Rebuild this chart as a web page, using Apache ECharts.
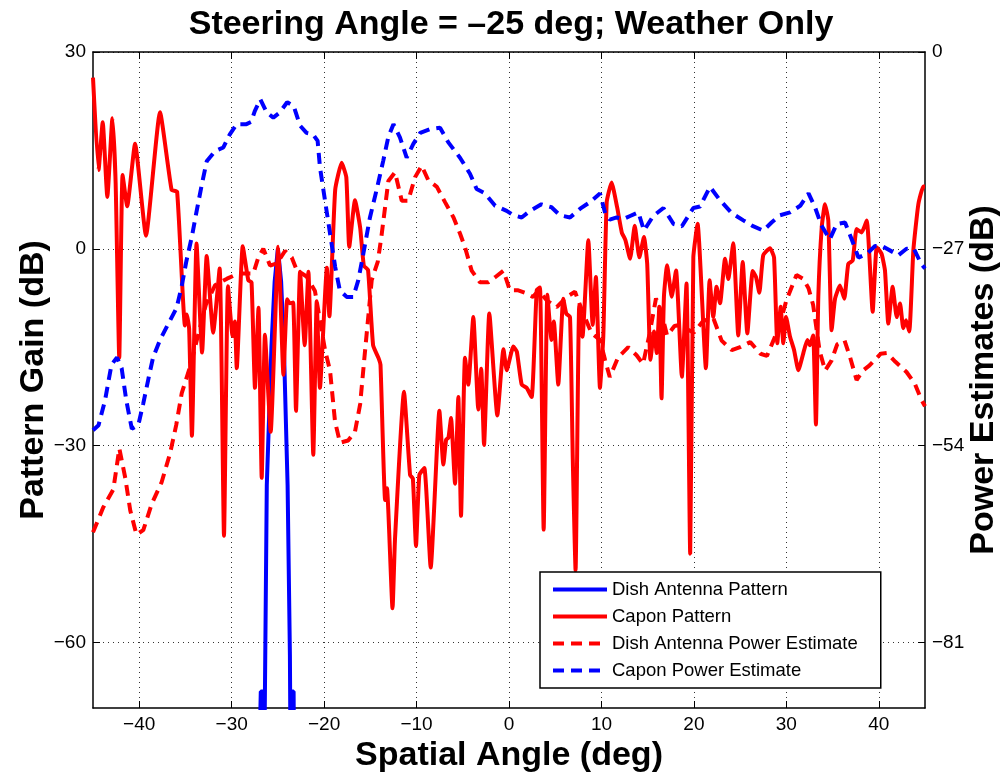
<!DOCTYPE html>
<html><head><meta charset="utf-8">
<script src="https://cdn.jsdelivr.net/npm/echarts@6/dist/echarts.min.js"></script>
<style>html,body{margin:0;padding:0;background:#fff}#c{width:1003px;height:773px}</style>
</head><body><div id="c"></div>
<script>
// ---- data (angle in deg, value in dB) ----
const titleText = 'Steering Angle = \u201325 deg; Weather Only';
const xTicks = [-40, -30, -20, -10, 0, 10, 20, 30, 40];
const leftTicks = [-60, -30, 0, 30];
const rightTicks = [-81, -54, -27, 0];

// Dish Antenna Pattern (left axis, dB)
const dishPattern = [
  [-45, -90], [-27.2, -90], [-26.85, -67.5], [-26.6, -67.5], [-26.5, -90],
  [-26.45, -75], [-26.2, -36], [-25.7, -15], [-25.35, -5], [-25.0, 0],
  [-24.65, -5], [-24.35, -15], [-23.95, -36], [-23.7, -62], [-23.62, -80],
  [-23.55, -67.5], [-23.3, -67.5], [-23.2, -90], [45, -90]
];

// Capon Pattern (left axis, dB)
const caponPattern = [
  [-45, 26.1], [-44.4, 12.0], [-43.95, 19.3], [-43.45, 7.9], [-42.9, 19.9], [-42.55, 10],
  [-42.16, -16.6], [-41.8, 11.25], [-41.3, 6.5], [-40.45, 16.0], [-39.27, 2.0], [-37.75, 20.8],
  [-36.5, 9.0], [-35.9, 8.7], [-35.05, -11.7], [-34.85, -10], [-34.6, -12.2], [-34.3, -28.5],
  [-33.8, 0.8], [-33.2, -15.8], [-32.7, -1.1], [-32.0, -12.8], [-31.3, -3.0], [-30.83, -43.75],
  [-30.4, -5.7], [-29.9, -13.3], [-29.65, -11.1], [-29.45, -18.2], [-28.8, 0.4], [-28.2, -4.8],
  [-27.85, -5.1], [-27.48, -21.2], [-27.1, -9.0], [-26.75, -34.9], [-26.4, -13.1], [-25.78, -27.9],
  [-24.96, 0.3], [-24.8, -4.2], [-24.4, -19.2], [-24.0, -7.7], [-23.7, -8.3], [-23.35, -8.2],
  [-23.04, -24.7], [-22.6, -3.5], [-22.1, -14.7], [-21.7, -3.5], [-21.17, -31.4], [-20.8, -8.0],
  [-20.45, -21.2], [-19.7, -2.9], [-19.43, -10.3], [-18.8, 9.0], [-18.1, 13.1], [-17.6, 10.9],
  [-17.28, 0.3], [-16.66, 7.4], [-16.1, 3.2], [-15.7, -2.6], [-15.25, -3.2], [-14.7, -14.7],
  [-14.1, -16.7], [-13.9, -17.7], [-13.4, -38.3], [-13.2, -36.5], [-12.6, -54.8], [-12.33, -44.2],
  [-11.36, -21.8], [-10.7, -34.5], [-10.4, -35], [-10.06, -45.3], [-9.7, -34.5], [-9.16, -33.4],
  [-8.47, -48.6], [-7.53, -24.7], [-7.1, -32.9], [-6.8, -29.1], [-6.55, -28.8], [-6.27, -25.8],
  [-5.84, -35.8], [-5.48, -22.6], [-5.19, -40.7], [-4.76, -16.6], [-4.4, -20.7], [-3.86, -10.4],
  [-3.32, -24.5], [-3.0, -18.3], [-2.7, -29.9], [-2.13, -9.85], [-1.26, -25.4], [-0.6, -15.3],
  [-0.25, -18.5], [0.47, -14.9], [0.85, -15.7], [1.37, -20.7], [1.9, -21.2], [2.45, -22.6],
  [3.0, -6.3], [3.35, -5.9], [3.75, -42.8], [4.15, -7.0], [4.6, -13.9], [4.85, -11.1],
  [5.33, -20.7], [5.87, -7.6], [6.2, -9.9], [6.6, -10.4], [6.9, -32.1], [7.2, -49],
  [7.6, -8.6], [7.95, -13.4], [8.58, 1.3], [9.05, -11.6], [9.4, -4.3], [9.84, -21.2],
  [10.2, -13.4], [10.57, 7.1], [11.1, 10.1], [11.7, 6.3], [12.2, 2.5], [12.6, 1.3],
  [13.1, -1.5], [13.6, 3.5], [14.1, -1.3], [14.6, 1.8], [14.95, -2.3], [15.3, -16.9],
  [15.7, -12.6], [15.98, -15.9], [16.26, -8.85], [16.5, -22.8], [16.76, -7.3], [17.1, -2.5],
  [17.6, -7.3], [18.07, -3.3], [18.7, -19.5], [19.2, -5.3], [19.6, -46.5], [19.94, -1.3],
  [20.4, 3.8], [21.3, -18.2], [21.7, -4.8], [22.1, -10.4], [22.45, -5.8], [22.83, -8.3],
  [23.37, -1.5], [23.72, -4.6], [24.26, 0.86], [24.8, -13.2], [25.28, -2.0], [25.78, -12.9],
  [26.36, -3.4], [26.72, -4.3], [27.08, -6.7], [27.5, -1.0], [28.23, 0.1], [28.67, -1.3],
  [29.02, -14.4], [29.39, -8.85], [29.67, -14.4], [29.97, -10.4], [30.4, -13.4], [30.83, -15.4],
  [31.3, -18.5], [31.84, -15.9], [32.27, -13.9], [32.56, -14.7], [32.9, -13.2], [33.2, -26.8],
  [33.46, -7.3], [33.83, 3.3], [34.18, 6.8], [34.54, 4.3], [34.9, -12.4], [35.27, -7.6],
  [35.8, -5.6], [36.27, -7.6], [36.7, -2.3], [37.18, -1.8], [37.6, 3.0], [38.15, 2.5],
  [38.7, 4.3], [39.34, -9.6], [39.78, 0.25], [40.3, -0.76], [40.67, -3.3], [41.03, -11.4],
  [41.5, -5.8], [41.94, -10.4], [42.3, -8.35], [42.65, -12.1], [42.95, -10.9], [43.3, -12.6],
  [43.74, -0.25], [44.28, 6.8], [44.82, 9.5], [45, 9.5]
];

// Dish Antenna Power Estimate (right axis, dB)
const dishPower = [
  [-45, -65.9], [-43.9, -62.5], [-42.8, -60.0], [-42.15, -54.4], [-41.5, -58.5], [-40.97, -62.9],
  [-40.3, -66.2], [-39.56, -65.6], [-38.65, -62.0], [-37.57, -59.0], [-36.67, -55.1], [-36.0, -51.2],
  [-35.4, -46.8], [-34.5, -43.2], [-33.6, -38.7], [-32.8, -34.7], [-31.8, -32.0], [-30.5, -31.1],
  [-29.3, -30.4], [-28.3, -30.4], [-27.66, -30.4], [-27.12, -28.2], [-26.58, -27.0], [-25.85, -29.3],
  [-25.1, -29.0], [-24.23, -27.3], [-23.5, -28.2], [-22.97, -29.9], [-21.9, -30.8], [-20.99, -32.8],
  [-19.9, -40.9], [-19.36, -43.7], [-18.82, -50.7], [-18.28, -53.6], [-17.4, -53.3], [-16.66, -52.1],
  [-16.1, -48.3], [-15.6, -41.4], [-14.85, -31.3], [-14.2, -28.8], [-13.8, -25.3], [-13.05, -17.7],
  [-12.33, -16.5], [-11.6, -20.4], [-10.9, -20.4], [-10.17, -17.2], [-9.45, -15.6], [-8.73, -17.6],
  [-7.8, -18.5], [-6.92, -20.6], [-6.0, -22.7], [-5.3, -24.9], [-4.76, -26.8], [-4.04, -30.0],
  [-3.14, -31.6], [-2.24, -31.6], [-1.5, -30.9], [-0.6, -30.0], [0.1, -32.7], [1.0, -32.7],
  [1.9, -33.1], [2.6, -33.6], [3.2, -32.7], [4.1, -34.1], [5.16, -35.0], [6.24, -33.6],
  [7.14, -32.9], [8.04, -35.9], [8.94, -38.6], [9.84, -39.5], [10.4, -42.3], [10.9, -44.6],
  [11.8, -41.9], [12.9, -40.5], [13.8, -41.6], [14.5, -42.8], [15.2, -38.7], [15.9, -33.8],
  [16.5, -35.8], [17.1, -38.9], [17.9, -37.6], [18.6, -37.4], [19.2, -38.0], [20.0, -38.5],
  [21.0, -36.9], [22.1, -36.5], [23.0, -39.6], [24.1, -40.9], [25.0, -40.5], [26.1, -39.8],
  [27.2, -41.4], [27.9, -41.7], [28.6, -39.6], [29.3, -37.3], [30.0, -34.1], [31.1, -30.6],
  [31.8, -31.1], [32.4, -32.4], [32.9, -34.7], [33.6, -41.0], [34.2, -43.7], [34.9, -42.3],
  [35.5, -40.1], [36.3, -39.6], [36.9, -41.9], [37.6, -45.0], [38.3, -43.7], [39.0, -43.0],
  [40.2, -41.4], [40.9, -41.3], [41.8, -42.5], [43.0, -43.9], [43.9, -45.5], [44.6, -47.7],
  [45, -48.6]
];

// Capon Power Estimate (right axis, dB)
const caponPower = [
  [-45, -51.9], [-44.4, -51.2], [-43.7, -47.8], [-43.0, -42.9], [-42.4, -41.9], [-41.9, -43.4],
  [-41.4, -47.8], [-40.8, -51.7], [-40.1, -51.2], [-39.56, -48.2], [-39.0, -44.8], [-38.5, -41.9],
  [-37.75, -39.5], [-36.86, -37.3], [-35.95, -35.1], [-35.4, -32.1], [-34.9, -28.7], [-34.3, -25.3],
  [-33.8, -21.9], [-33.2, -18.0], [-32.7, -15.0], [-31.8, -13.6], [-30.9, -13.1], [-30.2, -11.3],
  [-29.45, -9.9], [-28.4, -9.9], [-27.9, -9.6], [-27.5, -8.1], [-26.9, -6.5], [-26.2, -8.3],
  [-25.5, -9.0], [-24.8, -8.3], [-24.0, -6.9], [-23.3, -7.4], [-22.6, -10.1], [-21.9, -11.1],
  [-21.2, -11.3], [-20.7, -12.2], [-20.45, -15.8], [-19.9, -20.4], [-19.36, -24.9], [-18.8, -29.5],
  [-18.3, -32.7], [-17.56, -33.6], [-16.84, -33.6], [-16.3, -31.3], [-15.76, -27.7], [-15.04, -22.7],
  [-14.3, -18.8], [-13.6, -14.9], [-13.06, -11.7], [-12.5, -9.9], [-11.8, -11.7], [-11.07, -14.5],
  [-10.35, -12.6], [-9.6, -11.1], [-8.55, -10.6], [-7.46, -10.4], [-6.56, -12.4], [-5.3, -14.5],
  [-4.22, -16.7], [-3.5, -18.8], [-2.6, -19.4], [-1.5, -21.1], [-0.25, -21.8], [0.47, -22.4],
  [1.37, -22.7], [2.27, -21.8], [3.5, -20.9], [4.6, -21.3], [5.5, -22.4], [6.6, -22.7],
  [7.7, -21.5], [8.76, -20.6], [9.84, -19.4], [10.4, -22.1], [10.9, -23.0], [11.65, -22.7],
  [12.4, -22.9], [13.1, -22.5], [14.0, -22.0], [14.6, -24.5], [15.6, -22.5], [16.7, -21.4],
  [17.8, -23.6], [18.7, -23.9], [19.94, -21.4], [20.66, -21.2], [21.74, -18.5], [22.8, -20.3],
  [24.1, -22.1], [25.35, -23.1], [26.4, -23.9], [27.5, -24.5], [28.4, -23.4], [29.3, -22.4],
  [30.4, -22.0], [31.5, -21.1], [32.4, -19.4], [33.1, -21.3], [33.8, -23.8], [34.7, -25.7],
  [35.45, -23.6], [36.35, -23.4], [37.1, -25.8], [37.8, -28.2], [38.7, -27.7], [39.6, -26.6],
  [40.3, -26.6], [41.6, -27.5], [42.1, -27.9], [43.0, -27.0], [43.8, -27.0], [44.6, -29.1],
  [45, -29.7]
];

// ---- chart ----
const FONT = '"Liberation Sans", Arial, Helvetica, sans-serif';
const minus = v => String(v).replace('-', '\u2212');
const gridLine = { show: true, lineStyle: { color: '#333', width: 1, type: [1, 4] } };
const axisLine = { show: true, onZero: false, lineStyle: { color: '#000', width: 1.5 } };
const nameStyle = { fontFamily: FONT, fontSize: 34, fontWeight: 'bold', color: '#000' };
const tickFont = { fontFamily: FONT, fontSize: 19, color: '#000' };

const chart = echarts.init(document.getElementById('c'), null, { renderer: 'canvas' });
chart.setOption({
  animation: false,
  backgroundColor: '#fff',
  title: {
    text: titleText, left: 511, textAlign: 'center', top: 8, padding: 0,
    textStyle: { fontFamily: FONT, fontSize: 34, fontWeight: 'bold', color: '#000' }
  },
  grid: { left: 93, right: 78, top: 52, bottom: 65, containLabel: false, outerBoundsMode: 'none' },
  legend: {
    orient: 'vertical', left: 540, top: 572,
    itemWidth: 54, itemHeight: 14, itemGap: 8,
    padding: [8, 23, 8, 11],
    backgroundColor: '#fff', borderColor: '#000', borderWidth: 1.5, borderRadius: 0,
    lineStyle: { width: 4 },
    itemStyle: { opacity: 0 },
    textStyle: { fontFamily: FONT, fontSize: 18.5, color: '#000' },
    data: ['Dish Antenna Pattern', 'Capon Pattern', 'Dish Antenna Power Estimate', 'Capon Power Estimate']
  },
  xAxis: [{
    type: 'value', min: -45, max: 45, position: 'bottom',
    name: 'Spatial Angle (deg)', nameLocation: 'middle', nameGap: 31, nameMoveOverlap: false,
    nameTextStyle: nameStyle,
    axisLine: axisLine,
    axisTick: { show: true, inside: true, length: 7, customValues: xTicks, lineStyle: { color: '#000', width: 1 } },
    axisLabel: Object.assign({ customValues: xTicks, formatter: minus, margin: 7 }, tickFont),
    splitLine: gridLine
  }, {
    type: 'value', min: -45, max: 45, position: 'top',
    axisLine: axisLine,
    axisTick: { show: true, inside: true, length: 7, customValues: xTicks, lineStyle: { color: '#000', width: 1 } },
    axisLabel: { show: false },
    splitLine: { show: false }
  }],
  yAxis: [{
    type: 'value', min: -70, max: 30, position: 'left',
    name: 'Pattern Gain (dB)', nameLocation: 'middle', nameGap: 42, nameMoveOverlap: false,
    nameTextStyle: nameStyle,
    axisLine: axisLine,
    axisTick: { show: true, inside: true, length: 7, customValues: leftTicks, lineStyle: { color: '#000', width: 1 } },
    axisLabel: Object.assign({ customValues: leftTicks, formatter: minus, margin: 7 }, tickFont),
    splitLine: gridLine
  }, {
    type: 'value', min: -90, max: 0, position: 'right',
    name: 'Power Estimates (dB)', nameLocation: 'middle', nameGap: 42, nameMoveOverlap: false,
    nameTextStyle: nameStyle,
    axisLine: axisLine,
    axisTick: { show: true, inside: true, length: 7, customValues: rightTicks, lineStyle: { color: '#000', width: 1 } },
    axisLabel: Object.assign({ customValues: rightTicks, formatter: minus, margin: 7 }, tickFont),
    splitLine: { show: false }
  }],
  series: [{
    name: 'Dish Antenna Pattern', type: 'line', xAxisIndex: 0, yAxisIndex: 0,
    data: dishPattern, symbol: 'none', clip: true,
    lineStyle: { color: '#0000ff', width: 4 }, itemStyle: { color: '#0000ff' }
  }, {
    name: 'Capon Pattern', type: 'line', xAxisIndex: 0, yAxisIndex: 0,
    data: caponPattern, symbol: 'none', clip: true, smooth: 0.15,
    lineStyle: { color: '#ff0000', width: 4 }, itemStyle: { color: '#ff0000' }
  }, {
    name: 'Dish Antenna Power Estimate', type: 'line', xAxisIndex: 0, yAxisIndex: 1,
    data: dishPower, symbol: 'none', clip: true,
    lineStyle: { color: '#ff0000', width: 4, type: [11, 7] }, itemStyle: { color: '#ff0000' }
  }, {
    name: 'Capon Power Estimate', type: 'line', xAxisIndex: 0, yAxisIndex: 1,
    data: caponPower, symbol: 'none', clip: true,
    lineStyle: { color: '#0000ff', width: 4, type: [11, 7] }, itemStyle: { color: '#0000ff' }
  }]
});
</script>
</body></html>
